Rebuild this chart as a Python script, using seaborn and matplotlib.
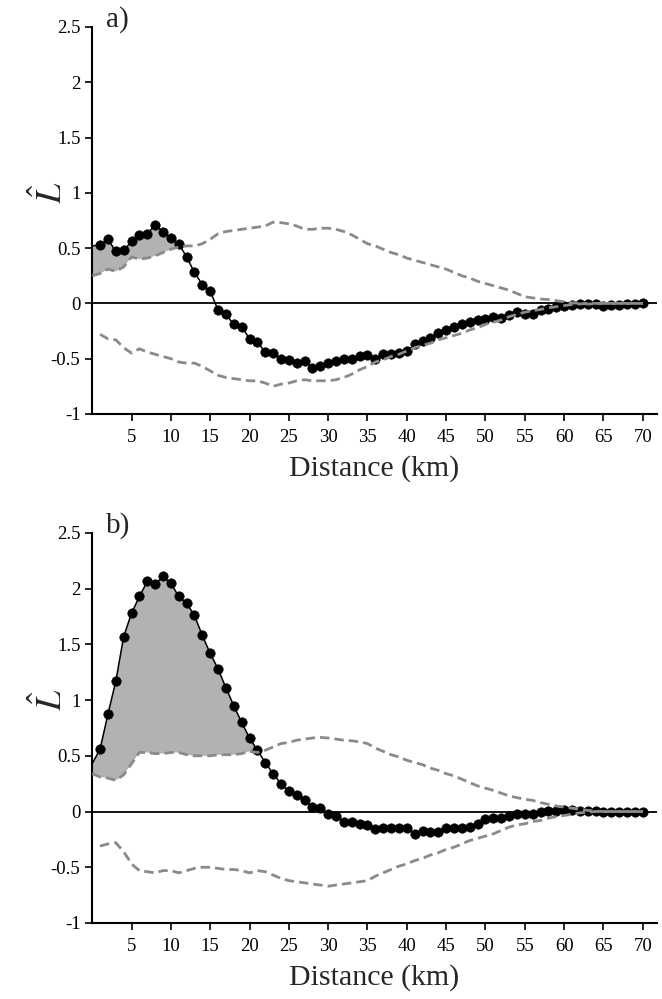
import numpy as np
import pandas as pd
import matplotlib
matplotlib.use("Agg")
import matplotlib.pyplot as plt
import matplotlib.transforms as mtransforms
import seaborn as sns

# ---------------- data ----------------
distance = list(range(0, 71))

obs_a = [0.52, 0.53, 0.58, 0.47, 0.48, 0.56, 0.62, 0.63, 0.71, 0.65,
         0.59, 0.54, 0.42, 0.28, 0.17, 0.11, -0.06, -0.10, -0.19, -0.21,
         -0.32, -0.35, -0.44, -0.45, -0.50, -0.515, -0.535, -0.52, -0.58, -0.57,
         -0.535, -0.52, -0.50, -0.50, -0.476, -0.465, -0.50, -0.46, -0.455, -0.45,
         -0.434, -0.37, -0.34, -0.31, -0.27, -0.24, -0.21, -0.185, -0.165, -0.15,
         -0.145, -0.124, -0.13, -0.108, -0.078, -0.10, -0.094, -0.063, -0.048, -0.033,
         -0.027, -0.018, -0.009, -0.003, -0.009, -0.02, -0.018, -0.012, -0.003, -0.003,
         0.0]

upper_a = [0.25, 0.27, 0.31, 0.29, 0.33, 0.42, 0.40, 0.41, 0.43, 0.46,
           0.49, 0.51, 0.52, 0.52, 0.54, 0.58, 0.63, 0.65, 0.66, 0.67,
           0.68, 0.69, 0.70, 0.735, 0.73, 0.72, 0.70, 0.67, 0.67, 0.68,
           0.68, 0.67, 0.65, 0.62, 0.58, 0.54, 0.52, 0.49, 0.46, 0.44,
           0.41, 0.39, 0.37, 0.35, 0.33, 0.31, 0.28, 0.25, 0.23, 0.20,
           0.18, 0.16, 0.14, 0.12, 0.09, 0.06, 0.05, 0.04, 0.035, 0.025,
           0.015, 0.005, 0.0, -0.005, -0.005, 0.0, 0.0, 0.0, 0.0, 0.0,
           0.0]

lower_a = [np.nan, -0.28, -0.32, -0.33, -0.40, -0.45, -0.41, -0.44, -0.46, -0.48,
           -0.50, -0.53, -0.54, -0.54, -0.57, -0.61, -0.65, -0.67, -0.68, -0.69,
           -0.70, -0.70, -0.72, -0.75, -0.73, -0.72, -0.70, -0.69, -0.70, -0.70,
           -0.70, -0.69, -0.67, -0.64, -0.60, -0.57, -0.53, -0.51, -0.48, -0.46,
           -0.43, -0.40, -0.38, -0.36, -0.33, -0.31, -0.29, -0.27, -0.24, -0.22,
           -0.19, -0.17, -0.15, -0.12, -0.10, -0.08, -0.065, -0.055, -0.04, -0.03,
           -0.02, -0.01, -0.005, 0.0, 0.0, 0.0, 0.0, 0.0, 0.0, 0.0,
           0.0]

obs_b = [0.43, 0.56, 0.875, 1.17, 1.57, 1.78, 1.93, 2.065, 2.04, 2.11,
         2.05, 1.93, 1.87, 1.76, 1.58, 1.42, 1.28, 1.11, 0.95, 0.80,
         0.66, 0.55, 0.44, 0.34, 0.25, 0.18, 0.148, 0.104, 0.04, 0.035,
         -0.02, -0.044, -0.09, -0.09, -0.11, -0.12, -0.16, -0.145, -0.145, -0.145,
         -0.145, -0.205, -0.175, -0.18, -0.18, -0.145, -0.152, -0.145, -0.14, -0.11,
         -0.07, -0.061, -0.055, -0.04, -0.025, -0.025, -0.02, -0.002, 0.004, 0.004,
         0.016, 0.01, 0.004, 0.004, 0.004, -0.002, 0.0, 0.0, 0.0, 0.0,
         0.0]

upper_b = [0.34, 0.31, 0.30, 0.28, 0.33, 0.43, 0.53, 0.53, 0.52, 0.52,
           0.53, 0.53, 0.51, 0.50, 0.50, 0.50, 0.51, 0.51, 0.51, 0.52,
           0.54, 0.53, 0.55, 0.58, 0.61, 0.62, 0.64, 0.65, 0.66, 0.665,
           0.66, 0.65, 0.64, 0.635, 0.625, 0.61, 0.57, 0.54, 0.51, 0.49,
           0.46, 0.44, 0.42, 0.39, 0.37, 0.34, 0.32, 0.29, 0.26, 0.23,
           0.21, 0.19, 0.165, 0.14, 0.125, 0.11, 0.10, 0.08, 0.065, 0.05,
           0.04, 0.03, 0.02, 0.01, 0.005, 0.0, 0.0, 0.0, 0.0, 0.0,
           0.0]

lower_b = [np.nan, -0.31, -0.29, -0.28, -0.36, -0.47, -0.53, -0.54, -0.55, -0.53,
           -0.53, -0.55, -0.53, -0.51, -0.50, -0.50, -0.51, -0.52, -0.52, -0.53,
           -0.55, -0.53, -0.54, -0.57, -0.60, -0.62, -0.63, -0.64, -0.65, -0.66,
           -0.67, -0.66, -0.65, -0.64, -0.63, -0.62, -0.58, -0.55, -0.52, -0.49,
           -0.47, -0.44, -0.42, -0.39, -0.37, -0.34, -0.32, -0.29, -0.26, -0.24,
           -0.22, -0.20, -0.17, -0.14, -0.12, -0.11, -0.09, -0.08, -0.06, -0.045,
           -0.035, -0.025, -0.012, -0.005, 0.0, 0.0, 0.0, 0.0, 0.0, 0.0,
           0.0]

panel_labels = ["a)", "b)"]
y_ticks = [-1, -0.5, 0, 0.5, 1, 1.5, 2, 2.5]
y_ticklabels = ["-1", "-0.5", "0", "0.5", "1", "1.5", "2", "2.5"]
x_ticks = list(range(5, 71, 5))
x_label = "Distance (km)"

# ---------------- style ----------------
sns.set_style("ticks")
plt.rcParams["font.family"] = ["Liberation Serif", "DejaVu Serif"]
plt.rcParams["mathtext.fontset"] = "stix"

fig = plt.figure(figsize=(6.62, 9.99), dpi=100)
ax_a = fig.add_axes([0.1393, 0.5856, 0.853, 0.3874])
ax_b = fig.add_axes([0.1393, 0.0761, 0.853, 0.3904])

DASH_COLOR = "#8a8a8a"
FILL_COLOR = "#b2b2b2"

for ax, obs, up, lo, lab in [(ax_a, obs_a, upper_a, lower_a, panel_labels[0]),
                             (ax_b, obs_b, upper_b, lower_b, panel_labels[1])]:
    df = pd.DataFrame({"distance": distance, "obs": obs, "upper": up, "lower": lo})
    x = df["distance"].to_numpy()
    o = df["obs"].to_numpy()
    u = df["upper"].to_numpy()
    ax.fill_between(x, o, u, where=o >= u, interpolate=True,
                    color=FILL_COLOR, linewidth=0, zorder=1)
    ax.axhline(0, color="black", lw=1.3, zorder=2)
    sns.lineplot(data=df, x="distance", y="obs", ax=ax, color="black",
                 lw=1.1, zorder=3, estimator=None)
    sns.scatterplot(data=df[df["distance"] >= 1], x="distance", y="obs", ax=ax,
                    color="black", s=48, edgecolor="black", linewidth=0.3,
                    zorder=4)
    sns.lineplot(data=df, x="distance", y="upper", ax=ax, color=DASH_COLOR,
                 lw=2.0, zorder=5, estimator=None, dashes=False)
    sns.lineplot(data=df, x="distance", y="lower", ax=ax, color=DASH_COLOR,
                 lw=2.0, zorder=5, estimator=None, dashes=False)
    for line in ax.get_lines()[-2:]:
        line.set_linestyle((0, (3.4, 1.8)))

    ax.set_xlim(0, 71.8)
    ax.set_ylim(-1, 2.5)
    ax.set_yticks(y_ticks)
    ax.set_yticklabels(y_ticklabels)
    ax.set_xticks(x_ticks)
    ax.set_xticklabels([str(t) for t in x_ticks])
    ax.tick_params(axis="both", labelsize=13.5, length=5, width=1.2,
                   color="black", labelcolor="black", direction="out")
    ax.tick_params(axis="x", pad=6)
    for s in ["top", "right"]:
        ax.spines[s].set_visible(False)
    for s in ["left", "bottom"]:
        ax.spines[s].set_linewidth(1.5)
        ax.spines[s].set_color("black")
    ax.set_xlabel(x_label, fontsize=21.5, labelpad=6)
    ax.set_ylabel("")
    trans = mtransforms.blended_transform_factory(ax.transAxes, ax.transData)
    ax.text(-0.074, 1.0, r"$\hat{L}$", transform=trans, rotation=90,
            fontsize=26, ha="center", va="center")
    ax.text(0.024, 1.019, lab, transform=ax.transAxes, fontsize=21,
            ha="left", va="center")

fig.savefig("out.png", dpi=100)
